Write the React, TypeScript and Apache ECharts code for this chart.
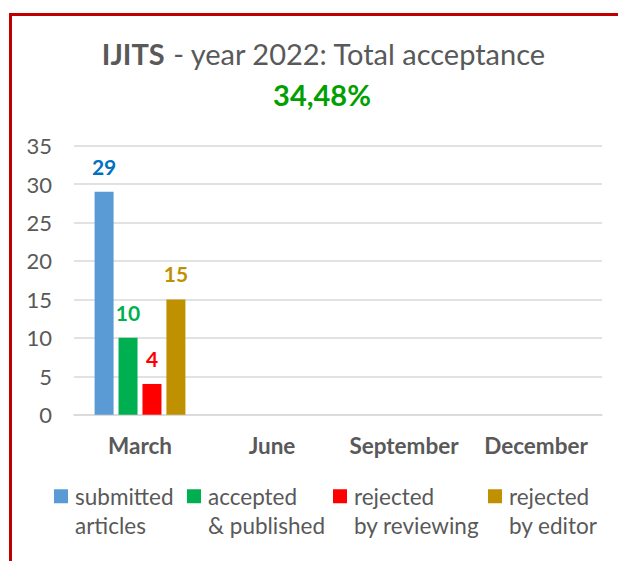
import React, { useEffect, useRef } from "react";
import * as echarts from "echarts";

const categories = ["March", "June", "September", "December"];
const submitted = [29, null, null, null];
const accepted = [10, null, null, null];
const rejectedReview = [4, null, null, null];
const rejectedEditor = [15, null, null, null];
const seriesNames = [
  "submitted\narticles",
  "accepted\n& published",
  "rejected\nby reviewing",
  "rejected\nby editor",
];
const barColors = ["#5b9bd5", "#00b050", "#ff0000", "#bf9000"];
const labelColors = ["#0070c0", "#00b050", "#ff0000", "#bf9000"];
const legendLefts = [54, 187, 333, 488];

const FONT = "Lato";
const GRAY = "#595959";

export default function App() {
  const ref = useRef<HTMLDivElement>(null);
  useEffect(() => {
    if (!ref.current) return;
    const chart = echarts.init(ref.current, null, { renderer: "svg" });
    const values = [submitted, accepted, rejectedReview, rejectedEditor];
    chart.setOption({
      animation: false,
      backgroundColor: "#ffffff",
      title: [
        {
          text: "{b|IJITS} - year 2022: Total acceptance",
          left: 319,
          top: 34,
          textAlign: "center",
          textStyle: {
            fontFamily: FONT,
            fontSize: 29,
            fontWeight: "normal",
            color: GRAY,
            rich: {
              b: { fontFamily: FONT, fontSize: 29, fontWeight: "bold", color: GRAY },
            },
          },
        },
        {
          text: "34,48%",
          left: 317,
          top: 75,
          textAlign: "center",
          textStyle: { fontFamily: FONT, fontSize: 29, fontWeight: "bold", color: "#00a000" },
        },
      ],
      legend: seriesNames.map((n, i) => ({
        data: [n],
        left: legendLefts[i],
        top: 452,
        padding: 0,
        itemWidth: 14,
        itemHeight: 14,
        icon: "rect",
        selectedMode: false,
        formatter: (name: string) => "\n" + name,
        textStyle: {
          fontFamily: FONT,
          fontSize: 22.5,
          color: GRAY,
          lineHeight: 29.5,
          padding: [0, 0, 0, 2],
        },
      })),
      grid: { left: 74, right: 16, top: 145.7, bottom: 146.3, containLabel: false },
      xAxis: {
        type: "category",
        data: categories,
        axisTick: { show: false },
        axisLine: { show: true, lineStyle: { color: "#d9d9d9", width: 1.5 } },
        axisLabel: {
          interval: 0,
          fontFamily: FONT,
          fontSize: 22.5,
          fontWeight: "bold",
          color: GRAY,
          margin: 19,
        },
      },
      yAxis: {
        type: "value",
        min: 0,
        max: 35,
        interval: 5,
        axisLine: { show: false },
        axisTick: { show: false },
        splitLine: { lineStyle: { color: "#d9d9d9", width: 1.5 } },
        axisLabel: { fontFamily: FONT, fontSize: 22, color: GRAY, margin: 22 },
      },
      series: seriesNames.map((n, i) => ({
        name: n,
        type: "bar",
        data: values[i],
        barWidth: 19,
        barGap: "26%",
        itemStyle: { color: barColors[i] },
        label: {
          show: true,
          position: "top",
          distance: 15,
          fontFamily: FONT,
          fontSize: 21,
          fontWeight: "bold",
          color: labelColors[i],
        },
      })),
      graphic: [
        {
          type: "line",
          shape: { x1: 10.5, y1: 13, x2: 10.5, y2: 561 },
          style: { stroke: "#c00000", lineWidth: 3 },
          silent: true,
        },
        {
          type: "line",
          shape: { x1: 9, y1: 14.5, x2: 620, y2: 14.5 },
          style: { stroke: "#c00000", lineWidth: 3 },
          silent: true,
        },
      ],
    });
    return () => chart.dispose();
  }, []);
  return (
    <div
      ref={ref}
      style={{ position: "absolute", left: 0, top: 0, width: 618, height: 561 }}
    />
  );
}
